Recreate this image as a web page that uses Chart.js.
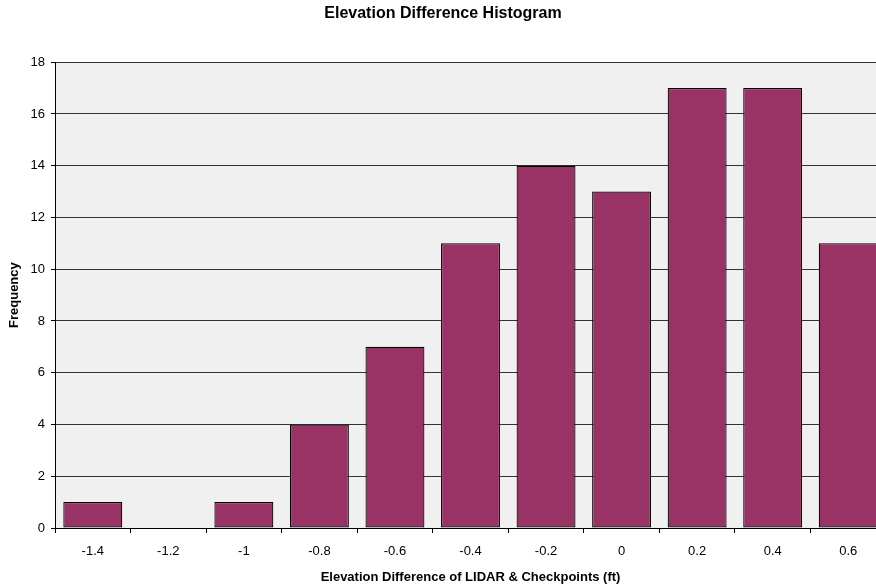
<!DOCTYPE html>
<html>
<head>
<meta charset="utf-8">
<script src="https://cdn.jsdelivr.net/npm/chart.js@4"></script>
<style>
html,body{margin:0;padding:0;background:#fff;overflow:hidden;width:876px;height:586px;}
canvas{display:block;}
</style>
</head>
<body>
<canvas id="c" width="889" height="586"></canvas>
<script>
const categories = ['-1.4','-1.2','-1','-0.8','-0.6','-0.4','-0.2','0','0.2','0.4','0.6'];
const frequency = [1,0,1,4,7,11,14,13,17,17,11];
const titleText = 'Elevation Difference Histogram';
const xTitle = 'Elevation Difference of LIDAR & Checkpoints (ft)';
const yTitle = 'Frequency';

const FONT = "'Liberation Sans', Arial, sans-serif";

const plotBg = {
  id: 'plotBg',
  beforeDraw(chart) {
    const {ctx, chartArea: a} = chart;
    ctx.save();
    ctx.fillStyle = '#f0f0f0';
    ctx.fillRect(a.left, a.top, a.right - a.left, a.bottom - a.top);
    ctx.restore();
  }
};

new Chart(document.getElementById('c'), {
  type: 'bar',
  data: {
    labels: categories,
    datasets: [{
      label: yTitle,
      data: frequency,
      backgroundColor: '#993366',
      borderColor: '#000000',
      borderWidth: 1.2,
      borderSkipped: false,
      barPercentage: 0.78,
      categoryPercentage: 1.0
    }]
  },
  plugins: [plotBg],
  options: {
    responsive: false,
    animation: false,
    devicePixelRatio: 1,
    layout: { padding: { left: 0, right: 3, top: 0, bottom: 0 } },
    plugins: {
      legend: { display: false },
      tooltip: { enabled: false },
      title: {
        display: true,
        text: titleText,
        color: '#000',
        font: { family: FONT, size: 16, weight: 'bold' },
        padding: { top: 4, bottom: 39 }
      }
    },
    scales: {
      x: {
        grid: {
          offset: true,
          drawOnChartArea: false,
          drawTicks: true,
          tickLength: 5,
          color: '#000',
          tickColor: '#000'
        },
        border: { color: '#000', width: 1 },
        ticks: {
          color: '#000',
          font: { family: FONT, size: 13 },
          padding: 11,
          maxRotation: 0,
          autoSkip: false
        },
        title: {
          display: true,
          text: xTitle,
          color: '#000',
          font: { family: FONT, size: 13, weight: 'bold' },
          padding: { top: 4, bottom: 1 }
        },
        afterFit(s) { s.height = 58; }
      },
      y: {
        min: 0,
        max: 18,
        ticks: {
          stepSize: 2,
          color: '#000',
          font: { family: FONT, size: 13 },
          padding: 6
        },
        grid: {
          color: '#333',
          lineWidth: 1,
          drawTicks: true,
          tickLength: 4,
          tickColor: '#000'
        },
        border: { color: '#000', width: 1 },
        title: {
          display: true,
          text: yTitle,
          color: '#000',
          font: { family: FONT, size: 13, weight: 'bold' },
          padding: { top: 7, bottom: 4 }
        },
        afterFit(s) { s.width = 55; }
      }
    }
  }
});
</script>
</body>
</html>
